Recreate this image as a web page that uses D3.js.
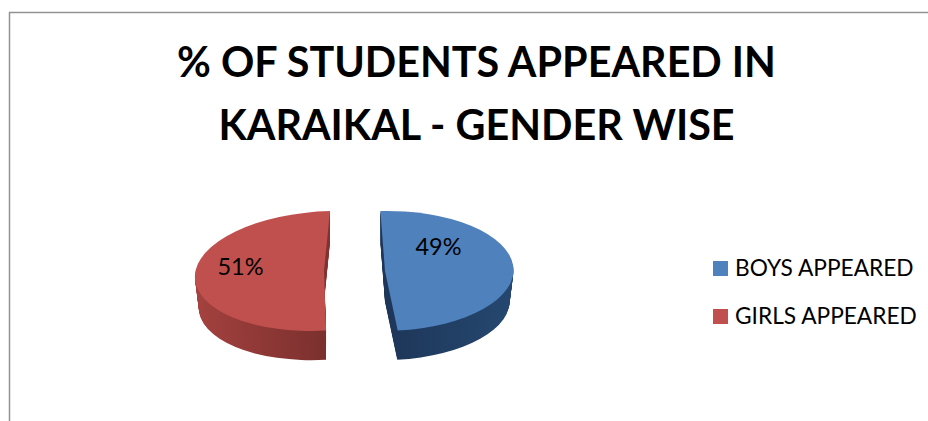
<!DOCTYPE html>
<html>
<head>
<meta charset="utf-8">
<script src="https://cdn.jsdelivr.net/npm/d3@7"></script>
<style>
  html, body { margin: 0; padding: 0; background: #fff; }
  svg { display: block; }
</style>
</head>
<body>
<svg id="chart"></svg>
<script>
var titleLines = ["% OF STUDENTS APPEARED IN", "KARAIKAL - GENDER WISE"];
var categories = ["BOYS APPEARED", "GIRLS APPEARED"];
var values = [49, 51];
var topColors = ["#4f81bd", "#c0504d"];
var sideLight = ["#25476f", "#a5423f"];
var sideDark = ["#1d3557", "#7b302e"];

var width = 928;
var height = 421;
var svg = d3.select("#chart").attr("width", width).attr("height", height);
var font = "Lato, 'Open Sans', sans-serif";

// frame, only top and left show in the crop
svg.append("path")
  .attr("d", "M9.5,421V12.5H928")
  .attr("fill", "none")
  .attr("stroke", "#929292")
  .attr("stroke-width", 1.5);

var titleY = d3.scalePoint().domain(titleLines).range([77, 140]);
svg.selectAll(".title")
  .data(titleLines)
  .enter()
  .append("text")
  .attr("class", "title")
  .attr("x", 476.5)
  .attr("y", function (d) { return titleY(d); })
  .attr("text-anchor", "middle")
  .style("font-family", font)
  .style("font-weight", 700)
  .style("font-size", "41.3px")
  .attr("fill", "#000")
  .text(function (d) { return d; });

// pie
var centerX = 354.5, centerY = 271, rx = 128.5, ry = 60, depth = 31, explode = 30.5;
var skew = [-2, -12]; // the picture's perspective leans the slices
var startAngle = -3 * Math.PI / 180;

var pie = d3.pie().sort(null).startAngle(startAngle).endAngle(startAngle + 2 * Math.PI);
var slices = pie(values);
var arc = d3.arc().innerRadius(0).outerRadius(rx);

var defs = svg.append("defs");
slices.forEach(function (d, i) {
  var g = defs.append("linearGradient").attr("id", "side" + i)
    .attr("x1", i === 0 ? 1 : 0).attr("x2", i === 0 ? 0 : 1).attr("y1", 0).attr("y2", 0);
  g.append("stop").attr("offset", "0%").attr("stop-color", sideLight[i]);
  g.append("stop").attr("offset", "100%").attr("stop-color", sideDark[i]);
});

// slices only move sideways, both top edges sit on the same line
function sliceCenterX(d) {
  var mid = (d.startAngle + d.endAngle) / 2;
  return centerX + (Math.sin(mid) > 0 ? explode : -explode);
}

var stepsOfSide = d3.range(depth, 0, -1);
slices.forEach(function (d, i) {
  var cx = sliceCenterX(d);
  var g = svg.append("g");
  // side wall: dark copies going down, slightly narrower with depth
  g.selectAll(".side")
    .data(stepsOfSide)
    .enter()
    .append("path")
    .attr("class", "side")
    .attr("d", arc(d))
    .attr("fill", "url(#side" + i + ")")
    .attr("transform", function (s) {
      var shrink = 1 - 0.03 * s / depth;
      return "translate(" + cx + "," + (centerY + s) + ") skewX(" + skew[i] + ") scale(" + shrink + "," + (shrink * ry / rx) + ")";
    });
  g.append("path")
    .attr("d", arc(d))
    .attr("fill", topColors[i])
    .attr("transform", "translate(" + cx + "," + centerY + ") skewX(" + skew[i] + ") scale(1," + (ry / rx) + ")");
});

// percent labels
var labelPos = [[438.5, 254.5], [240.5, 275]];
svg.selectAll(".pct")
  .data(slices)
  .enter()
  .append("text")
  .attr("class", "pct")
  .attr("x", function (d, i) { return labelPos[i][0]; })
  .attr("y", function (d, i) { return labelPos[i][1]; })
  .attr("text-anchor", "middle")
  .style("font-family", font)
  .style("font-size", "23.5px")
  .attr("fill", "#000")
  .text(function (d) { return d.value + "%"; });

// legend
var legendY = d3.scalePoint().domain(categories).range([261, 309]);
var legend = svg.selectAll(".legend")
  .data(categories)
  .enter()
  .append("g")
  .attr("class", "legend")
  .attr("transform", function (d) { return "translate(713," + legendY(d) + ")"; });
legend.append("rect")
  .attr("width", 15)
  .attr("height", 15)
  .attr("fill", function (d, i) { return topColors[i]; });
legend.append("text")
  .attr("x", 22)
  .attr("y", 14.5)
  .style("font-family", font)
  .style("font-size", "22.7px")
  .attr("fill", "#000")
  .text(function (d) { return d; });
</script>
</body>
</html>
